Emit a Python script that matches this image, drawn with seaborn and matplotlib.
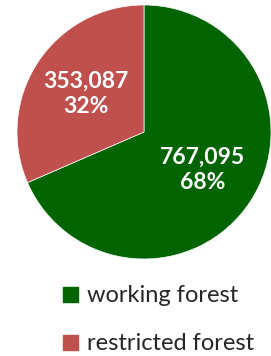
import matplotlib
matplotlib.use("Agg")
import matplotlib.pyplot as plt
import seaborn as sns
from matplotlib.lines import Line2D

categories = ["working forest", "restricted forest"]
values = [767095, 353087]
colors = ["#006400", "#C0504D"]

sns.set_theme(style="white")
plt.rcParams['font.family'] = ['Lato', 'DejaVu Sans']

W, H = 271, 356
fig = plt.figure(figsize=(W / 100, H / 100), dpi=100)
cx, cy, r = 144, 132, 127
ax = fig.add_axes([(cx - r) / W, (H - cy - r) / H, 2 * r / W, 2 * r / H])

total = sum(values)

def fmt(pct):
    v = int(round(pct * total / 100.0))
    return f"{v:,}\n{pct:.0f}%"

wedges, texts, autotexts = ax.pie(values, colors=colors, startangle=90, counterclock=False,
                                  autopct=fmt, pctdistance=0.55, radius=1,
                                  wedgeprops=dict(linewidth=0.5, edgecolor="white"))
for t in autotexts:
    t.set_color("white")
    t.set_fontsize(16.5)
    t.set_fontweight("bold")
    t.set_linespacing(1.25)
ax.set_xlim(-1, 1)
ax.set_ylim(-1, 1)
ax.set_aspect("equal")
ax.axis("off")

handles = [Line2D([0], [0], marker="s", linestyle="none", markersize=10.8,
                  markerfacecolor=c, markeredgecolor=c) for c in colors]
fig.legend(handles, categories, loc="upper left", bbox_to_anchor=(61 / W, 1 - 285 / H),
           frameon=False, fontsize=17, labelspacing=1.15, handletextpad=0.3,
           handlelength=0.8, borderaxespad=0, borderpad=0)

fig.savefig("out.png", dpi=100)
